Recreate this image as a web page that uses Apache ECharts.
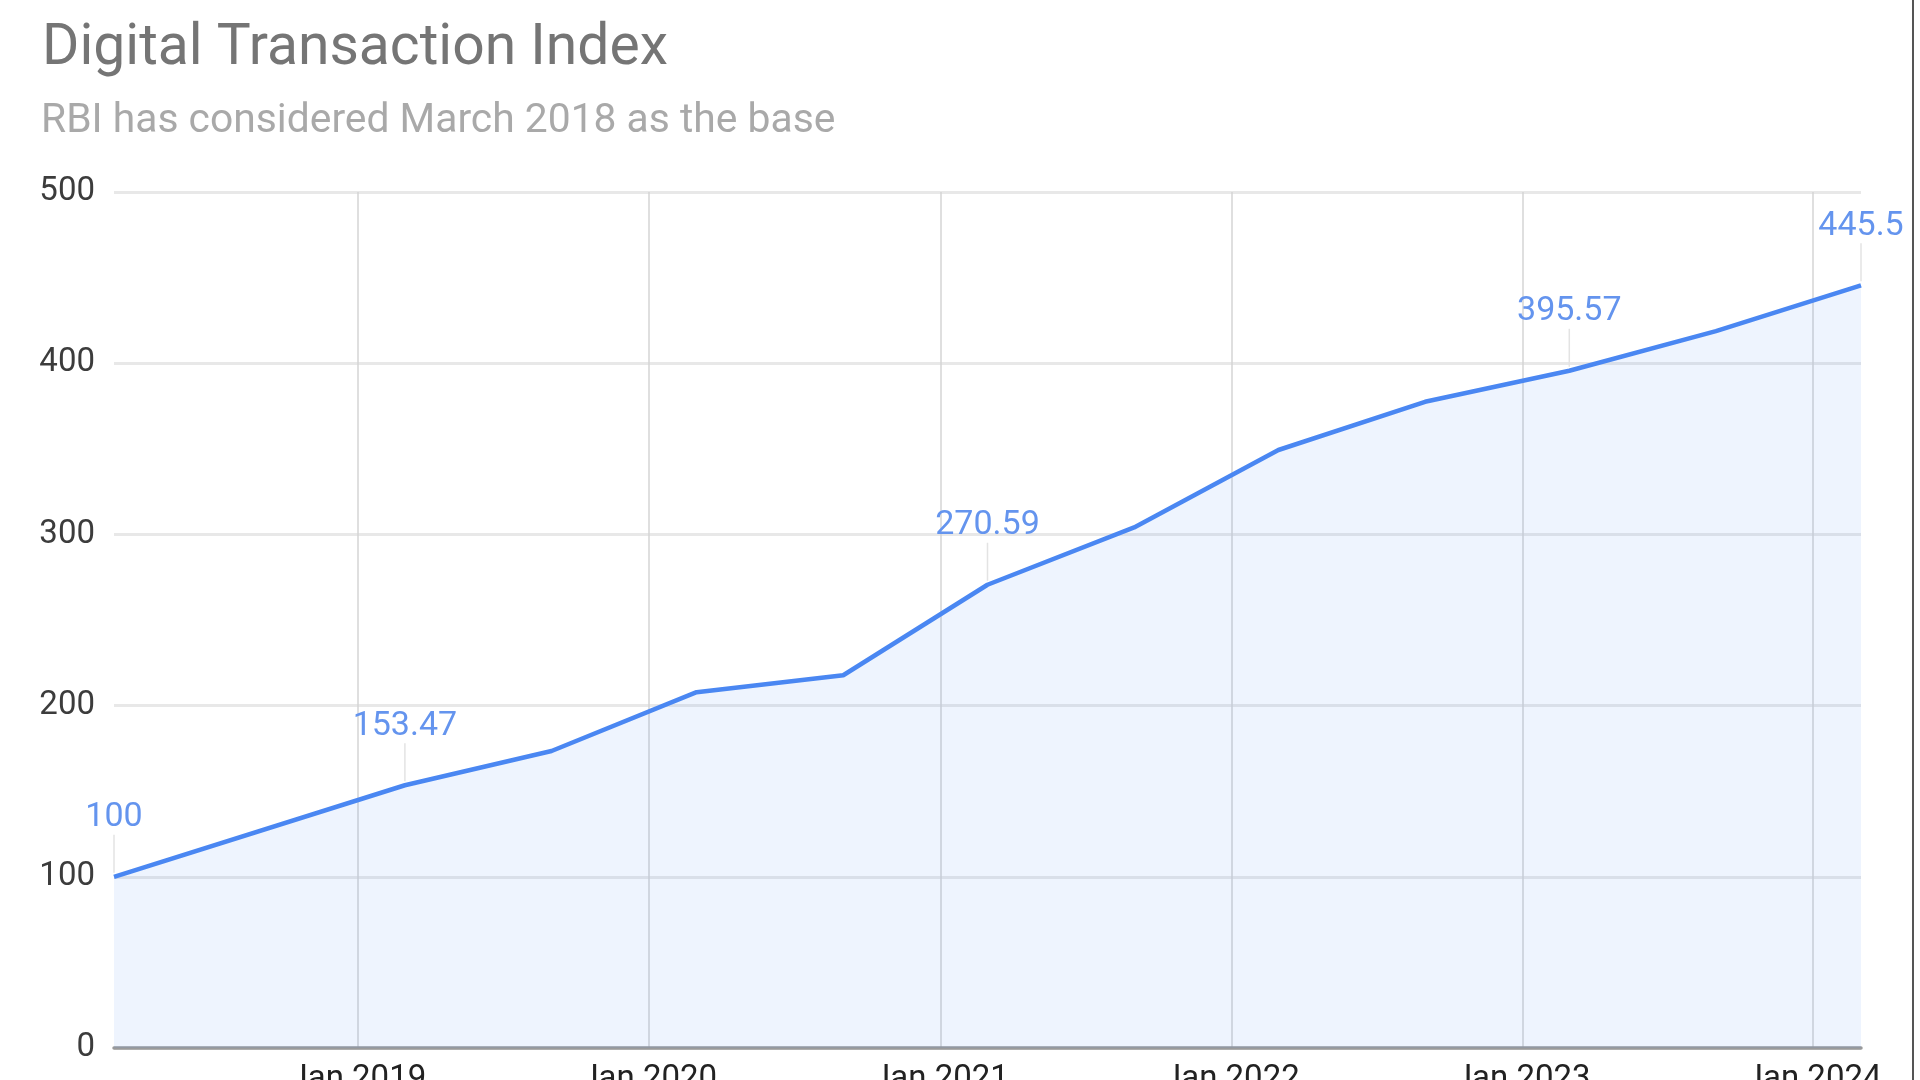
<!DOCTYPE html>
<html>
<head>
<meta charset="utf-8">
<script src="https://cdn.jsdelivr.net/npm/echarts@6/dist/echarts.min.js"></script>
<style>
  html, body { margin: 0; padding: 0; background: #ffffff; overflow: hidden; }
  #chart { width: 1920px; height: 1080px; }
  #edge { position: absolute; left: 1912px; top: 0; width: 2px; height: 1080px; background: #555555; }
</style>
</head>
<body>
<div id="chart"></div>
<div id="edge"></div>
<script>
// ---- data ----
const titleText = 'Digital Transaction Index';
const subtitleText = 'RBI has considered March 2018 as the base';
const periods = ['2018-03-01', '2019-03-01', '2019-09-01', '2020-03-01', '2020-09-01', '2021-03-01',
                 '2021-09-01', '2022-03-01', '2022-09-01', '2023-03-01', '2023-09-01', '2024-03-01'];
const indexValues = [100, 153.47, 173.49, 207.84, 217.74, 270.59, 304.06, 349.30, 377.46, 395.57, 418.77, 445.5];
const annotatedPeriods = ['2018-03-01', '2019-03-01', '2021-03-01', '2023-03-01', '2024-03-01'];
const annotatedLabels = ['100', '153.47', '270.59', '395.57', '445.5'];
const xTickDates = ['2019-01-01', '2020-01-01', '2021-01-01', '2022-01-01', '2023-01-01', '2024-01-01'];
const xTickLabels = ['Jan 2019', 'Jan 2020', 'Jan 2021', 'Jan 2022', 'Jan 2023', 'Jan 2024'];
const yTicks = [0, 100, 200, 300, 400, 500];

// ---- build ----
const ts = s => { const p = s.split('-').map(Number); return Date.UTC(p[0], p[1] - 1, p[2]); };
const lineData = periods.map((p, i) => [ts(p), indexValues[i]]);
const annotData = annotatedPeriods.map((p, i) => [ts(p), indexValues[periods.indexOf(p)], annotatedLabels[i]]);
const tickTs = xTickDates.map(ts);
const tickLabelMap = {};
tickTs.forEach((t, i) => { tickLabelMap[t] = xTickLabels[i]; });

const FONT = 'Roboto, "Liberation Sans", Arial, sans-serif';
const chart = echarts.init(document.getElementById('chart'), null, { renderer: 'canvas' });

chart.setOption({
  backgroundColor: '#ffffff',
  animation: false,
  title: [
    { text: titleText, left: 37, top: 16,
      textStyle: { fontFamily: FONT, fontSize: 57, fontWeight: 'normal', color: '#757575' } },
    { text: subtitleText, left: 36, top: 96,
      textStyle: { fontFamily: FONT, fontSize: 40.8, fontWeight: 'normal', color: '#a9a9a9' } }
  ],
  grid: { left: 114, right: 59, top: 192, bottom: 32, containLabel: false, outerBoundsMode: 'none' },
  xAxis: {
    type: 'value',
    min: ts(periods[0]),
    max: ts(periods[periods.length - 1]),
    axisLine: { show: true, onZero: false, lineStyle: { color: '#9a9a9a', width: 3.5 } },
    axisTick: { show: false, customValues: tickTs },
    axisLabel: {
      customValues: tickTs,
      margin: 15,
      fontFamily: FONT, fontSize: 33, color: '#222222',
      formatter: v => tickLabelMap[v] || ''
    },
    splitLine: { show: true, lineStyle: { color: '#d4d4d4', width: 1.5 } }
  },
  yAxis: {
    type: 'value',
    min: yTicks[0],
    max: yTicks[yTicks.length - 1],
    interval: 100,
    axisLine: { show: false },
    axisTick: { show: false },
    axisLabel: { margin: 19, fontFamily: FONT, fontSize: 33, color: '#3c3c3c' },
    splitLine: { show: true, lineStyle: { color: '#e8e8e8', width: 3 } }
  },
  series: [
    {
      type: 'line',
      data: lineData,
      showSymbol: false,
      symbol: 'none',
      lineStyle: { color: '#4a87f2', width: 4.5 },
      areaStyle: { color: 'rgba(66,133,244,0.13)' },
      z: 3
    },
    {
      type: 'custom',
      data: annotData,
      clip: false,
      z: 5,
      renderItem: function (params, api) {
        const pt = api.coord([api.value(0), api.value(1)]);
        const label = annotData[params.dataIndex][2];
        return {
          type: 'group',
          children: [
            { type: 'line',
              shape: { x1: pt[0], y1: pt[1] - 4, x2: pt[0], y2: pt[1] - 42 },
              style: { stroke: '#e3e3e3', lineWidth: 1.5 } },
            { type: 'text',
              style: { x: pt[0], y: pt[1] - 59, text: label, align: 'center', verticalAlign: 'middle',
                       fontFamily: FONT, fontSize: 34, fill: '#6494ee' } }
          ]
        };
      }
    }
  ]
});
</script>
</body>
</html>
